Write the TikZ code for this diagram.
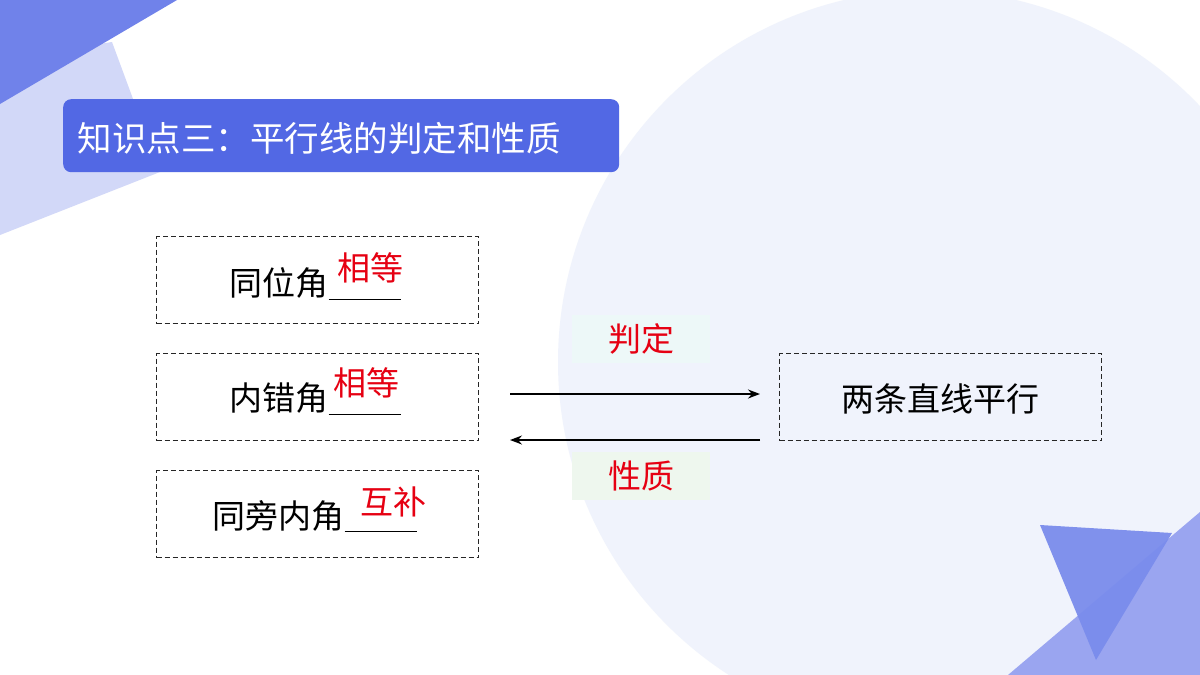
\documentclass[tikz,border=0pt]{standalone}
\usepackage{fontspec}
\setmainfont{Noto Sans CJK SC}
\usetikzlibrary{arrows.meta}
\definecolor{bgc}{RGB}{240,243,252}
\definecolor{dk}{RGB}{112,130,234}
\definecolor{lt}{RGB}{210,216,248}
\definecolor{tb}{RGB}{82,104,228}
\definecolor{br1}{RGB}{154,165,240}
\definecolor{br2}{RGB}{122,140,236}
\definecolor{rd}{RGB}{230,0,18}
\definecolor{lc}{RGB}{237,248,248}
\definecolor{lg}{RGB}{238,247,238}
\begin{document}
\begin{tikzpicture}[x=1pt,y=-1pt,
  dbox/.style={draw=black!85,dash pattern=on 5pt off 3pt,line width=1pt,minimum width=322pt,minimum height=87pt,anchor=north west,inner sep=0},
  txt/.style={font=\fontsize{33}{33}\selectfont},
  redt/.style={text=rd,font=\fontsize{33}{33}\selectfont},
  arr/.style={-{Stealth[length=12pt,width=9pt,inset=4pt]},line width=1.8pt}]
\useasboundingbox (0,0) rectangle (1200,675);
\fill[white] (0,0) rectangle (1200,675);
\begin{scope}
\clip (0,0) rectangle (1200,675);
\fill[bgc] (930,362) circle (372);
\fill[lt] (0,60) -- (112,42) -- (160,172) -- (0,235) -- cycle;
\fill[dk] (0,0) -- (177,0) -- (0,104) -- cycle;
\fill[br1] (1008,675) -- (1200,512) -- (1200,675) -- cycle;
\fill[br2,opacity=0.95] (1040,525) -- (1172,533) -- (1096,660) -- cycle;
\end{scope}
\node[fill=tb,rounded corners=8pt,minimum width=556pt,minimum height=73pt,anchor=north west,inner sep=0] (title) at (63,99) {};
\node[anchor=west,text=white,font=\fontsize{34.5}{34.5}\selectfont] (tt) at (74,138) {知识点三：平行线的判定和性质};
\node[dbox] (b1) at (156,236) {};
\node[dbox] (b2) at (156,353) {};
\node[dbox] (b3) at (156,470) {};
\node[dbox] (b4) at (779,353) {};
\node[txt,anchor=west] (t1) at (226,284) {同位角\rule[-4pt]{72pt}{1pt}};
\node[txt,anchor=west] (t2) at (226,399) {内错角\rule[-4pt]{72pt}{1pt}};
\node[txt,anchor=west] (t3) at (209,516) {同旁内角\rule[-4pt]{72pt}{1pt}};
\node[txt] (t4) at (940,399) {两条直线平行};
\node[redt] (r1) at (370,268) {相等};
\node[redt] (r2) at (366,383) {相等};
\node[redt] (r3) at (393,502) {互补};
\node[fill=lc,minimum width=138pt,minimum height=48pt,inner sep=0,redt] (l1) at (641,339) {判定};
\node[fill=lg,minimum width=138pt,minimum height=48pt,inner sep=0,redt] (l2) at (641,476) {性质};
\coordinate (a1) at (510,394);
\coordinate (a1e) at (760,394);
\coordinate (a2) at (760,440);
\coordinate (a2e) at (510,440);
\draw[arr] (a1) -- (a1e);
\draw[arr] (a2) -- (a2e);
\end{tikzpicture}
\end{document}
